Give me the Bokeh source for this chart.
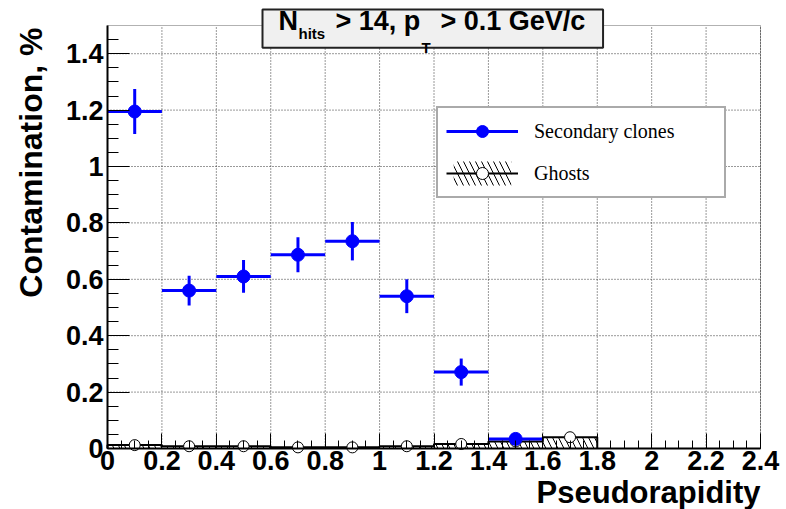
import numpy as np
from bokeh.plotting import figure
from bokeh.models import (FixedTicker, Label, Legend, LegendItem, LinearAxis,
                          BoxAnnotation)
from bokeh.embed import file_html
from bokeh.resources import INLINE

# ---------------- data ----------------
bin_lo = [0.0, 0.2, 0.4, 0.6, 0.8, 1.0, 1.2, 1.4, 1.6]
bin_hi = [0.2, 0.4, 0.6, 0.8, 1.0, 1.2, 1.4, 1.6, 1.8]
clone_val = [1.195, 0.560, 0.610, 0.687, 0.735, 0.540, 0.271, 0.034]
clone_err = [0.080, 0.053, 0.058, 0.062, 0.068, 0.060, 0.048, 0.010]
ghost_val = [0.012, 0.008, 0.008, 0.004, 0.004, 0.008, 0.016, 0.025, 0.040]
ghost_err = [0.005, 0.004, 0.004, 0.003, 0.003, 0.004, 0.005, 0.006, 0.007]
x_ticks = [0, 0.2, 0.4, 0.6, 0.8, 1, 1.2, 1.4, 1.6, 1.8, 2, 2.2, 2.4]
x_tick_labels = ["0", "0.2", "0.4", "0.6", "0.8", "1", "1.2", "1.4", "1.6", "1.8", "2", "2.2", "2.4"]
y_ticks = [0, 0.2, 0.4, 0.6, 0.8, 1, 1.2, 1.4]
y_tick_labels = ["0", "0.2", "0.4", "0.6", "0.8", "1", "1.2", "1.4"]

# ---------------- layout ----------------
W, H = 786, 509
FL, FR, FT, FB = 107, 760, 25, 448          # frame edges in canvas pixels
XMIN, XMAX, YMIN, YMAX = 0.0, 2.4, 0.0, 1.5
KX = (XMAX - XMIN) / (FR - FL)
KY = (YMAX - YMIN) / (FB - FT)
BASE_SHIFT = 0.38   # correction for where the alphabetic baseline lands (em)

def px2x(px):
    return XMIN + (px - FL) * KX

def py2y(py):
    return YMIN + (FB - py) * KY

SANS = "Liberation Sans"
SERIF = "Liberation Serif"

p = figure(width=W, height=H, x_range=(px2x(0), px2x(W)), y_range=(py2y(H), py2y(0)),
           output_backend="svg", toolbar_location=None, title=None,
           x_axis_type=None, y_axis_type=None,
           min_border_left=0, min_border_right=0, min_border_top=0, min_border_bottom=0)
p.background_fill_color = "white"
p.border_fill_color = "white"
p.outline_line_color = None

# ---------------- grid (dotted) ----------------
p.segment(x0=x_ticks, y0=[YMIN] * len(x_ticks), x1=x_ticks, y1=[YMAX] * len(x_ticks),
          line_color="#333333", line_width=1, line_dash="1 2")
p.segment(x0=[XMIN] * len(y_ticks), y0=y_ticks, x1=[XMAX] * len(y_ticks), y1=y_ticks,
          line_color="#333333", line_width=1, line_dash="1 2")

# ---------------- data glyphs ----------------
nc = len(clone_val)
c_lo = bin_lo[:nc]
c_hi = bin_hi[:nc]
c_mid = [(a + b) / 2 for a, b in zip(c_lo, c_hi)]
g_mid = [(a + b) / 2 for a, b in zip(bin_lo, bin_hi)]

hatch_r = p.quad(left=bin_lo, right=bin_hi, bottom=[0] * len(ghost_val), top=ghost_val,
                 fill_alpha=0, line_color=None, hatch_pattern="\\",
                 hatch_color="black", hatch_scale=12, hatch_weight=1)
sx, sy = [bin_lo[0]], [0.0]
for a, b, v in zip(bin_lo, bin_hi, ghost_val):
    sx += [a, b]
    sy += [v, v]
sx.append(bin_hi[-1])
sy.append(0.0)
line_r = p.line(sx, sy, line_color="black", line_width=2)
p.segment(x0=g_mid, y0=[v - e for v, e in zip(ghost_val, ghost_err)],
          x1=g_mid, y1=[v + e for v, e in zip(ghost_val, ghost_err)],
          line_color="black", line_width=1)
gcirc_r = p.scatter(g_mid, ghost_val, marker="circle", size=11,
                    fill_color="white", line_color="black", line_width=1)

hseg_r = p.segment(x0=c_lo, y0=clone_val, x1=c_hi, y1=clone_val,
                   line_color="#0000ff", line_width=3)
p.segment(x0=c_mid, y0=[v - e for v, e in zip(clone_val, clone_err)],
          x1=c_mid, y1=[v + e for v, e in zip(clone_val, clone_err)],
          line_color="#0000ff", line_width=3)
circ_r = p.scatter(c_mid, clone_val, marker="circle", size=13,
                   fill_color="#0000ff", line_color="#0000ff")

# ---------------- frame + axes ----------------
p.add_layout(BoxAnnotation(left=XMIN, right=XMAX, bottom=YMIN, top=YMAX,
                           fill_alpha=0, fill_color=None,
                           line_color="black", line_width=1))

minor_x = [round(v, 3) for v in np.arange(0, 2.4001, 0.05)]
minor_y = [round(v, 3) for v in np.arange(0, 1.4501, 0.05)]
xaxis = LinearAxis(fixed_location=YMIN, bounds=(XMIN, XMAX),
                   ticker=FixedTicker(ticks=x_ticks, minor_ticks=minor_x))
yaxis = LinearAxis(fixed_location=XMIN, bounds=(YMIN, YMAX),
                   ticker=FixedTicker(ticks=y_ticks, minor_ticks=minor_y))
xaxis.major_label_overrides = {t: s for t, s in zip(x_ticks, x_tick_labels)}
yaxis.major_label_overrides = {t: s for t, s in zip(y_ticks, y_tick_labels)}
for ax in (xaxis, yaxis):
    ax.axis_line_color = "black"
    ax.axis_line_width = 2
    ax.major_tick_line_color = "black"
    ax.minor_tick_line_color = "black"
    ax.major_tick_line_width = 1
    ax.minor_tick_line_width = 1
    ax.major_tick_out = 0
    ax.minor_tick_out = 0
    ax.major_label_text_font = SANS
    ax.major_label_text_font_style = "bold"
    ax.major_label_text_font_size = "27px"
    ax.major_label_text_color = "black"
xaxis.major_tick_in = 15
xaxis.minor_tick_in = 8
yaxis.major_tick_in = 22
yaxis.minor_tick_in = 11
xaxis.major_label_standoff = 2
yaxis.major_label_standoff = 4
p.add_layout(xaxis, "below")
p.add_layout(yaxis, "left")

# ---------------- legend ----------------
legend = Legend(items=[
    LegendItem(label="Secondary clones", renderers=[hseg_r, circ_r]),
    LegendItem(label="Ghosts", renderers=[hatch_r, line_r, gcirc_r]),
], location=(436, H - 198))
legend.margin = 0
legend.padding = 8
legend.spacing = 12
legend.glyph_width = 72
legend.glyph_height = 30
legend.label_height = 30
legend.label_width = 182
legend.label_standoff = 16
legend.label_text_font = SERIF
legend.label_text_font_size = "20px"
legend.label_text_color = "black"
legend.border_line_color = "#555555"
legend.border_line_width = 2
legend.background_fill_color = "white"
legend.background_fill_alpha = 1
p.add_layout(legend, "center")

# ---------------- title box ----------------
title_box = Label(x=px2x(262), y=py2y(9), text=" ", text_font=SANS,
                  text_font_size="2px", text_color="black", text_align="left",
                  text_baseline="top",
                  background_fill_color="#f0f0f0", background_fill_alpha=1,
                  border_line_color="#222222", border_line_width=2,
                  padding=dict(left=170, right=170, top=18, bottom=18))
p.add_layout(title_box)

def text_label(txt, xx, base_py, size, **kw):
    """Place text so that its alphabetic baseline lands at canvas pixel base_py."""
    return Label(x=px2x(xx), y=py2y(base_py - BASE_SHIFT * size), text=txt,
                 text_font=SANS, text_font_style="bold", text_font_size=f"{size}px",
                 text_color="black", text_align=kw.get("align", "left"),
                 text_baseline="alphabetic")

title_parts = [
    ("N", 278, 31, 27),
    ("hits", 298, 39, 15),
    ("> 14, p", 335, 31, 27),
    ("T", 421, 53, 15),
    ("> 0.1 GeV/c", 440, 31, 27),
]
for txt, xx, yy, fs in title_parts:
    p.add_layout(text_label(txt, xx, yy, fs))

# ---------------- axis titles ----------------
p.add_layout(Label(x=px2x(43 - BASE_SHIFT * 32), y=py2y(27), text="Contamination, %",
                   angle=np.pi / 2,
                   text_font=SANS, text_font_style="bold", text_font_size="32px",
                   text_color="black", text_align="right", text_baseline="alphabetic"))
p.add_layout(text_label("Pseudorapidity", FR, 504, 31, align="right"))

open("out.html", "w").write(file_html(p, INLINE))
